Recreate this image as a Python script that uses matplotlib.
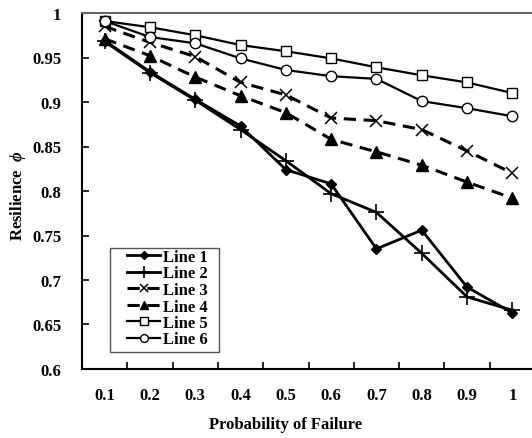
import matplotlib
matplotlib.use("Agg")
import matplotlib.pyplot as plt
from matplotlib.patches import Rectangle
import numpy as np

plt.rcParams["font.family"] = ["Liberation Serif", "DejaVu Serif"]
plt.rcParams["font.weight"] = "bold"
plt.rcParams["mathtext.fontset"] = "custom"
plt.rcParams["mathtext.it"] = "Liberation Serif:italic:bold"
plt.rcParams["mathtext.rm"] = "Liberation Serif:bold"

categories = ["0.1", "0.2", "0.3", "0.4", "0.5", "0.6", "0.7", "0.8", "0.9", "1"]

line1 = [0.969, 0.934, 0.903, 0.873, 0.824, 0.808, 0.735, 0.756, 0.692, 0.663]
line2 = [0.968, 0.933, 0.902, 0.869, 0.834, 0.797, 0.776, 0.730, 0.681, 0.666]
line3 = [0.985, 0.967, 0.951, 0.922, 0.908, 0.882, 0.879, 0.869, 0.845, 0.820]
line4 = [0.971, 0.952, 0.928, 0.907, 0.888, 0.858, 0.844, 0.829, 0.810, 0.792]
line5 = [0.991, 0.984, 0.975, 0.964, 0.957, 0.949, 0.939, 0.930, 0.922, 0.910]
line6 = [0.991, 0.973, 0.966, 0.949, 0.936, 0.929, 0.926, 0.901, 0.893, 0.884]

y_ticks = [0.6, 0.65, 0.7, 0.75, 0.8, 0.85, 0.9, 0.95, 1]
y_tick_labels = ["0.6", "0.65", "0.7", "0.75", "0.8", "0.85", "0.9", "0.95", "1"]

x = np.arange(1, len(categories) + 1)

W, H = 532, 439
fig = plt.figure(figsize=(W / 100, H / 100), dpi=100)
ax = fig.add_axes([82 / W, 69 / H, 450 / W, 356 / H])

dash = (0, (4, 2.5))
ax.plot(x, line1, color="black", lw=2, marker="D", ms=5, mfc="black", label="Line 1")
ax.plot(x, line2, color="black", lw=2, marker="+", ms=11, mew=1.2, label="Line 2")
ax.plot(x, line3, color="black", lw=2.2, ls=dash, marker="x", ms=8, mew=1.1, label="Line 3")
ax.plot(x, line4, color="black", lw=2.2, ls=dash, marker="^", ms=8, mfc="black", label="Line 4")
ax.plot(x, line5, color="black", lw=1.6, marker="s", ms=7.5, mfc="white", mew=1, label="Line 5")
ax.plot(x, line6, color="black", lw=1.6, marker="o", ms=7.5, mfc="white", mew=1, label="Line 6")

ax.set_xlim(0.5, 0.5 + 450 / 45.3)
ax.set_ylim(0.6, 1.0)

ax.set_xticks(x)
ax.set_xticklabels(categories)
ax.set_xticks(np.arange(1.5, 10.5, 1), minor=True)
ax.tick_params(axis="x", which="major", length=0, pad=13, labelsize=12)
ax.tick_params(axis="x", which="minor", direction="in", length=5, width=1.2)

ax.set_yticks(y_ticks)
ax.set_yticklabels(y_tick_labels)
ax.tick_params(axis="y", direction="in", length=5, width=1.2, pad=15, labelsize=12)

for lab in ax.get_xticklabels() + ax.get_yticklabels():
    lab.set_fontweight("bold")

ax.spines["right"].set_visible(False)
ax.spines["top"].set_color("#666666")
ax.spines["top"].set_linewidth(1.5)
ax.spines["left"].set_linewidth(1.5)
ax.spines["bottom"].set_linewidth(1.5)

ax.set_xlabel("Probability of Failure", fontsize=12, fontweight="bold")
ax.xaxis.label.set_va("center")
ax.xaxis.set_label_coords((286 - 82) / 450, (370 - 425) / 356)
ax.set_ylabel(r"Resilience  $\phi$", fontsize=12, fontweight="bold")
ax.yaxis.label.set_va("center")
ax.yaxis.set_label_coords((18 - 82) / 450, 0.49)

# legend without its own frame; the box is drawn separately (wider on the left, like the original)
leg = ax.legend(loc="upper left", bbox_to_anchor=(127 / W, (H - 250) / H),
                bbox_transform=fig.transFigure, frameon=False, fontsize=12,
                handlelength=2.0, handletextpad=0.15, labelspacing=0.03,
                borderpad=0, borderaxespad=0, markerscale=0.75)
for t in leg.get_texts():
    t.set_fontweight("bold")

fig.patches.append(Rectangle((110 / W, (H - 353) / H), 109 / W, 104 / H,
                             transform=fig.transFigure, fill=False,
                             edgecolor="#555555", linewidth=1, zorder=5))

fig.savefig("out.png", dpi=100)
